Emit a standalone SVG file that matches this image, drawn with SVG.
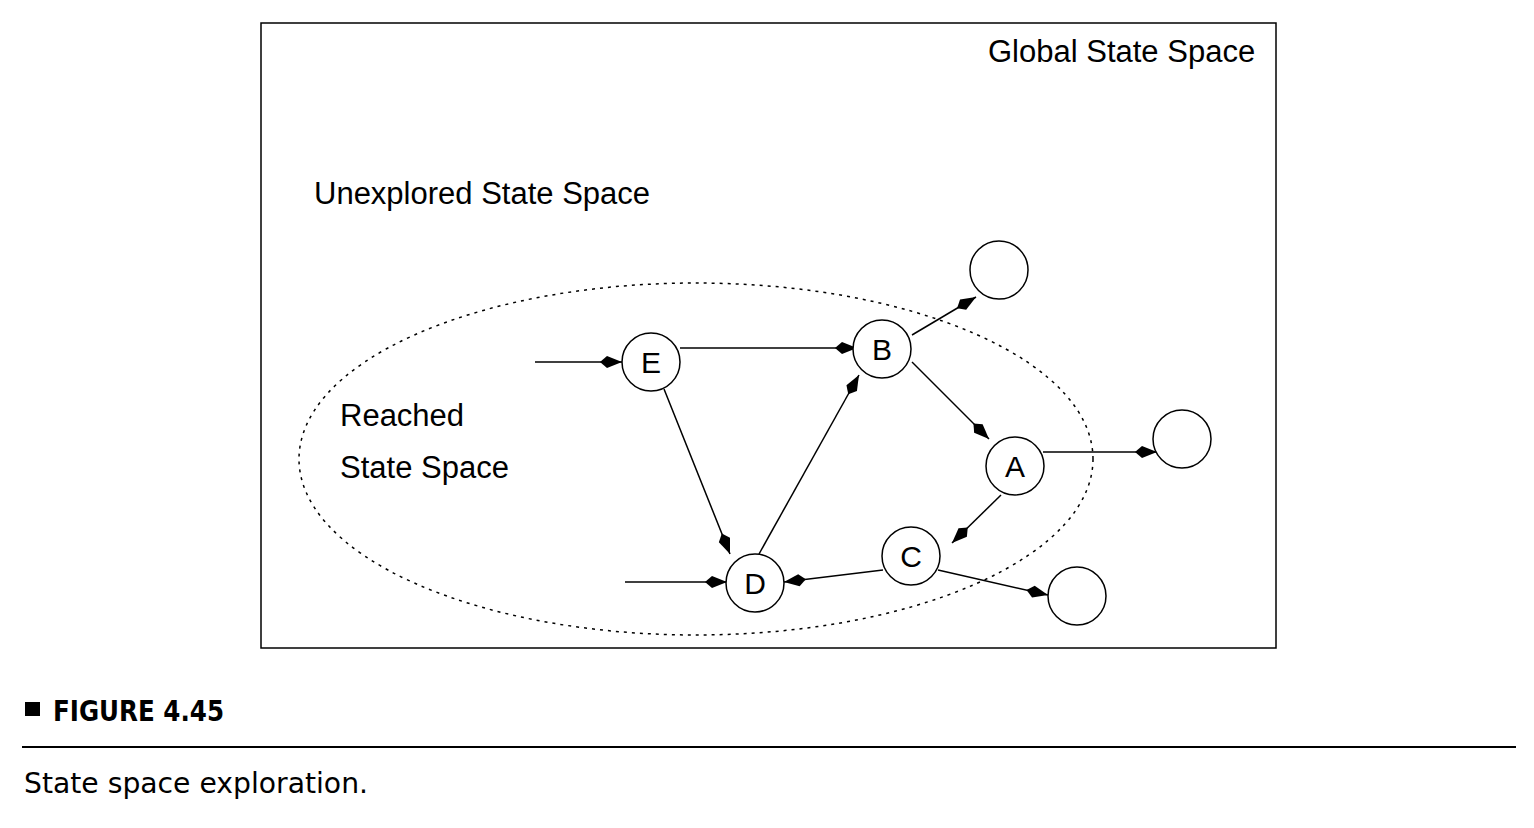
<svg xmlns="http://www.w3.org/2000/svg" width="1534" height="828" viewBox="0 0 1534 828">
<style>
.t{font-family:"Liberation Sans",Arial,sans-serif;font-size:31px;fill:#000}
.n{fill:#fff;stroke:#000;stroke-width:1.5}
.c{stroke:#000;stroke-width:1.5;fill:none;marker-end:url(#ah)}
.lbl{text-anchor:middle;font-size:30px}
</style>
<defs>
<marker id="ah" markerUnits="userSpaceOnUse" viewBox="-23 -7 24 14" refX="0" refY="0" markerWidth="24" markerHeight="14" orient="auto" overflow="visible">
<path d="M0,0 L-15,-6 L-22,0 L-15,6 Z" fill="#000"/>
</marker>
</defs>
<rect width="1534" height="828" fill="#fff"/>
<g id="frame">
<rect x="261" y="23" width="1015" height="625" fill="none" stroke="#000" stroke-width="1.5"/>
<text class="t" x="988" y="62">Global State Space</text>
<text class="t" x="314" y="204">Unexplored State Space</text>
</g>
<g id="reached">
<ellipse cx="696" cy="459" rx="397" ry="176" fill="none" stroke="#000" stroke-width="1.5" stroke-dasharray="3 5"/>
<text class="t" x="340" y="426">Reached</text>
<text class="t" x="340" y="478">State Space</text>
</g>
<g id="connectors">
<line class="c" x1="535" y1="362" x2="622" y2="362"/>
<line class="c" x1="680" y1="348" x2="857" y2="348"/>
<line class="c" x1="664" y1="389" x2="730" y2="554"/>
<line class="c" x1="759" y1="554" x2="859" y2="375"/>
<line class="c" x1="912" y1="362" x2="989" y2="439"/>
<line class="c" x1="912" y1="335" x2="976" y2="297"/>
<line class="c" x1="1043" y1="452" x2="1157" y2="452"/>
<line class="c" x1="1001" y1="495" x2="952" y2="543"/>
<line class="c" x1="883" y1="570" x2="784" y2="582"/>
<line class="c" x1="938" y1="570" x2="1048" y2="595"/>
<line class="c" x1="625" y1="582" x2="727" y2="582"/>
</g>
<g id="node-E"><circle class="n" cx="651" cy="362" r="29"/><text class="t lbl" x="651" y="373">E</text></g>
<g id="node-B"><circle class="n" cx="882" cy="349" r="29"/><text class="t lbl" x="882" y="360">B</text></g>
<g id="node-A"><circle class="n" cx="1015" cy="466" r="29"/><text class="t lbl" x="1015" y="477">A</text></g>
<g id="node-C"><circle class="n" cx="911" cy="556" r="29"/><text class="t lbl" x="911" y="567">C</text></g>
<g id="node-D"><circle class="n" cx="755" cy="583" r="29"/><text class="t lbl" x="755" y="594">D</text></g>
<g id="node-n1"><circle class="n" cx="999" cy="270" r="29"/></g>
<g id="node-n2"><circle class="n" cx="1182" cy="439" r="29"/></g>
<g id="node-n3"><circle class="n" cx="1077" cy="596" r="29"/></g>
<g id="caption">
<rect x="25" y="702" width="15" height="14" fill="#000"/>
<text x="53" y="721" font-family="'DejaVu Sans Condensed','Liberation Sans Narrow',sans-serif" font-weight="bold" font-size="28" textLength="171" lengthAdjust="spacingAndGlyphs">FIGURE 4.45</text>
<line x1="22" y1="747" x2="1516" y2="747" stroke="#000" stroke-width="2"/>
<text x="24" y="793" font-family="'DejaVu Sans','Liberation Sans',sans-serif" font-size="29" textLength="344" lengthAdjust="spacingAndGlyphs">State space exploration.</text>
</g>
</svg>
